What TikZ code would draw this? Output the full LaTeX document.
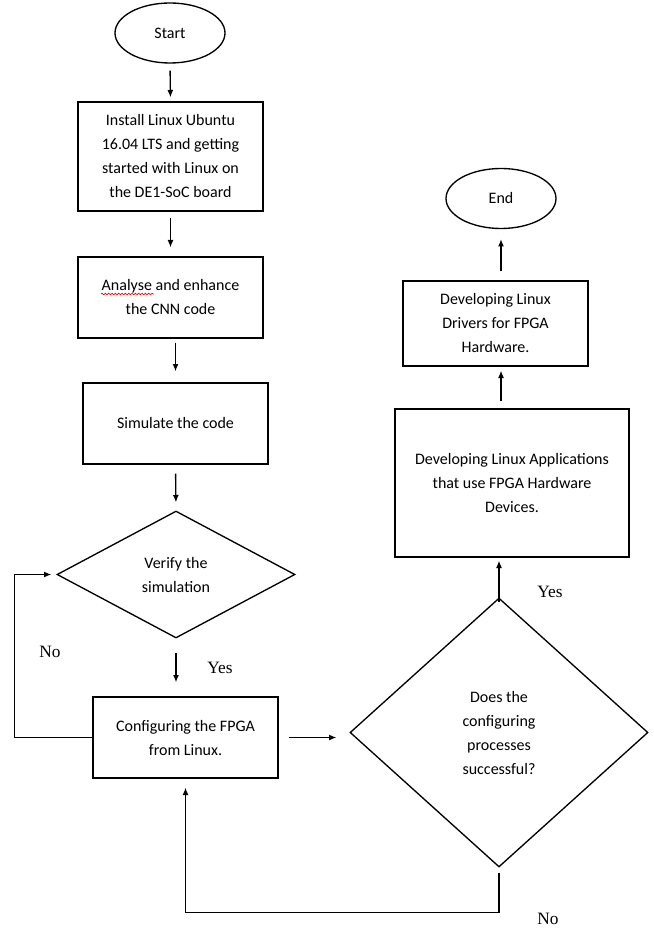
\documentclass[tikz,border=0pt]{standalone}
\usepackage{fontspec}
\setmainfont{Carlito}
\newfontfamily\yesnofont{Liberation Serif}
\usepackage{tikz}
\usetikzlibrary{%
arrows.meta,%
shapes.geometric,%
decorations.pathmorphing,%
calc}
\tikzset{
  flowbox/.style={draw,rectangle,line width=1pt,align=center,inner sep=0pt,font=\fontsize{12}{18}\selectfont},
  terminal/.style={draw,ellipse,line width=1pt,inner sep=0pt,minimum width=82.5pt,minimum height=45pt,font=\fontsize{12}{18}\selectfont},
  decision/.style={draw,diamond,line width=1pt,align=center,inner sep=0pt,font=\fontsize{12}{18}\selectfont},
  flowarrow/.style={line width=1pt,-{Latex[length=5.5pt,width=4.5pt]}},
  answer/.style={font=\yesnofont\fontsize{13}{15}\selectfont}
}

\begin{document}
\begin{tikzpicture}[x=0.75pt,y=-0.75pt]
\useasboundingbox (0,0) rectangle (653,930);
% left column
\node[terminal] (start) at (170,33) {Start};
\node[flowbox,minimum width=138.75pt,minimum height=81.75pt] (install) at (170.5,156.5) {Install Linux Ubuntu\\16.04 LTS and getting\\started with Linux on\\the DE1-SoC board};
\node[flowbox,minimum width=138.75pt,minimum height=60.75pt] (analyse) at (170.5,297.5) {Analyse and enhance\\the CNN code};
\node[flowbox,minimum width=138.75pt,minimum height=60.75pt] (simulate) at (175.5,423.5) {Simulate the code};
\node[decision,minimum width=178.5pt,minimum height=95.25pt] (verify) at (176,574.5) {Verify the\\simulation};
\node[flowbox,minimum width=138.75pt,minimum height=60.75pt] (cfg) at (185.5,737.5) {Configuring the FPGA\\from Linux.};
% right column
\node[decision,minimum width=223.5pt,minimum height=201.75pt] (check) at (499,732.5) {Does the\\configuring\\processes\\successful?};
\node[flowbox,minimum width=175.5pt,minimum height=111pt] (apps) at (512,483) {Developing Linux Applications\\that use FPGA Hardware\\Devices.};
\node[flowbox,minimum width=138.75pt,minimum height=63.75pt] (drivers) at (495.5,323.5) {Developing Linux\\Drivers for FPGA\\Hardware.};
\node[terminal] (end) at (501,198.5) {End};
% spell check mark
\draw[red,line width=0.5pt,decoration={snake,amplitude=0.6pt,segment length=2.5pt},decorate] (101,294) -- (154,294);
% arrows
\draw[flowarrow,shorten <=5.25pt,shorten >=3pt] (start.south) -- (install.north);
\draw[flowarrow,shorten <=4.5pt,shorten >=6.75pt] (install.south) -- (analyse.north);
\draw[flowarrow,shorten <=3pt,shorten >=8.25pt] (simulate.north |- analyse.south) -- (simulate.north);
\draw[flowarrow,shorten <=6.75pt,shorten >=6pt] (simulate.south) -- (verify.north);
\draw[flowarrow,shorten <=10.5pt,shorten >=10.5pt] (verify.south) -- (verify.south |- cfg.north);
\draw[flowarrow,shorten <=7.5pt,shorten >=9.75pt] (cfg.east) -- (cfg.east -| check.west);
\draw[flowarrow,shorten <=-3.75pt,shorten >=2.25pt] (check.north) -- (check.north |- apps.south);
\draw[flowarrow,shorten <=5.25pt,shorten >=3pt] (apps.north -| end) -- (drivers.south -| end);
\draw[flowarrow,shorten <=6.75pt,shorten >=7.5pt] (drivers.north -| end) -- (end.south);
% loops back
\draw[flowarrow,shorten >=3.75pt] (cfg.west) -- ++(-78,0) |- (verify.west);
\draw[flowarrow,shorten <=3.75pt,shorten >=6.75pt] (check.south) -- ++(0,45) -| (cfg.south);
% answers
\node[answer] (no1) at (50,652) {No};
\node[answer] (yes1) at (220,668) {Yes};
\node[answer] (yes2) at (550,592) {Yes};
\node[answer] (no2) at (548,919) {No};
\end{tikzpicture}
\end{document}
